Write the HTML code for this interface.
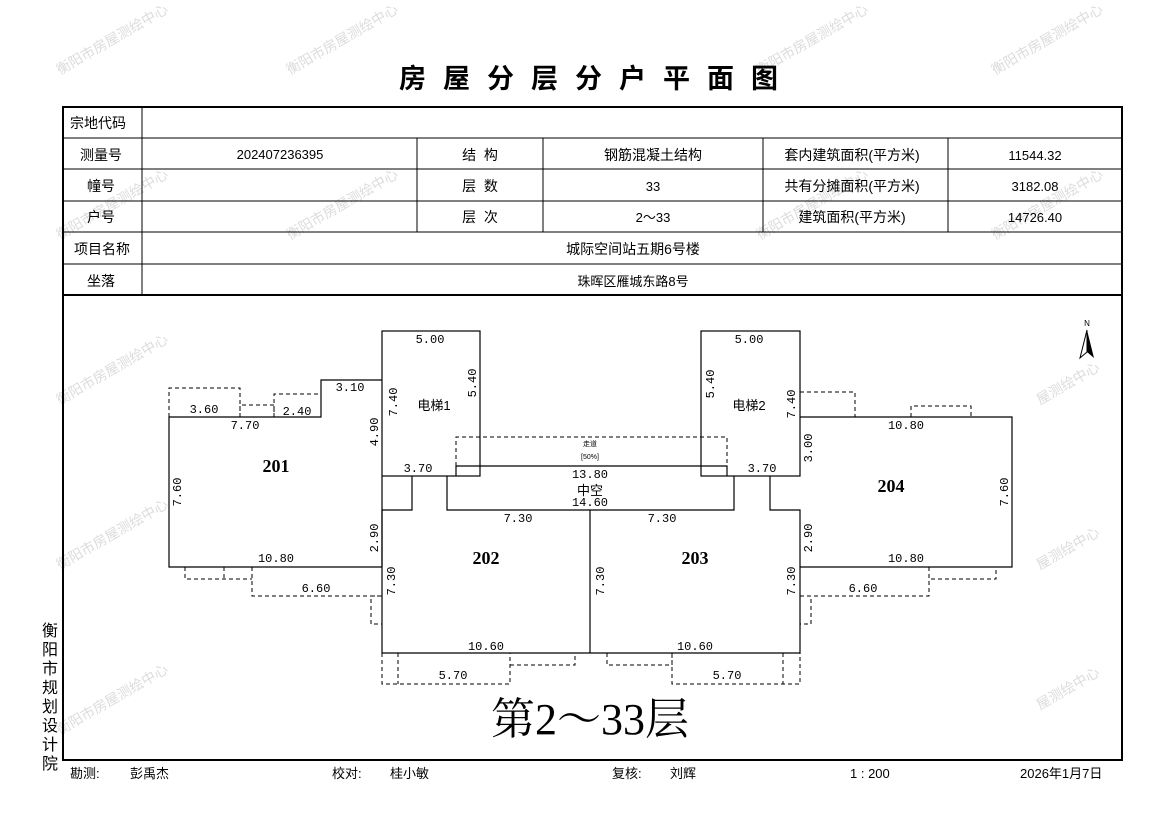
<!DOCTYPE html>
<html><head><meta charset="utf-8"><style>
html,body{margin:0;padding:0;background:#fff;}
svg{display:block;font-family:"Liberation Sans","Noto Sans CJK SC",sans-serif;}
</style></head><body>
<svg width="1169" height="827" viewBox="0 0 1169 827" xmlns="http://www.w3.org/2000/svg">
<g fill="#dcdcdc" font-size="14">
<text transform="translate(60,75) rotate(-30)">衡阳市房屋测绘中心</text>
<text transform="translate(290,75) rotate(-30)">衡阳市房屋测绘中心</text>
<text transform="translate(760,75) rotate(-30)">衡阳市房屋测绘中心</text>
<text transform="translate(995,75) rotate(-30)">衡阳市房屋测绘中心</text>
<text transform="translate(60,240) rotate(-30)">衡阳市房屋测绘中心</text>
<text transform="translate(290,240) rotate(-30)">衡阳市房屋测绘中心</text>
<text transform="translate(760,240) rotate(-30)">衡阳市房屋测绘中心</text>
<text transform="translate(995,240) rotate(-30)">衡阳市房屋测绘中心</text>
<text transform="translate(60,405) rotate(-30)">衡阳市房屋测绘中心</text>
<text transform="translate(1040,405) rotate(-30)">屋测绘中心</text>
<text transform="translate(60,570) rotate(-30)">衡阳市房屋测绘中心</text>
<text transform="translate(1040,570) rotate(-30)">屋测绘中心</text>
<text transform="translate(60,735) rotate(-30)">衡阳市房屋测绘中心</text>
<text transform="translate(1040,710) rotate(-30)">屋测绘中心</text>
</g>
<text x="597" y="88" font-size="27" font-weight="bold" text-anchor="middle" letter-spacing="17">房屋分层分户平面图</text>
<rect x="63" y="107" width="1059" height="653" fill="none" stroke="#000" stroke-width="2"/>
<g stroke="#000" stroke-width="1">
<line x1="63" y1="138" x2="1122" y2="138"/>
<line x1="63" y1="169" x2="1122" y2="169"/>
<line x1="63" y1="201" x2="1122" y2="201"/>
<line x1="63" y1="232" x2="1122" y2="232"/>
<line x1="63" y1="264" x2="1122" y2="264"/>
<line x1="63" y1="295" x2="1122" y2="295" stroke-width="2"/>
<line x1="142" y1="107" x2="142" y2="295"/>
<line x1="417" y1="138" x2="417" y2="232"/>
<line x1="543" y1="138" x2="543" y2="232"/>
<line x1="763" y1="138" x2="763" y2="232"/>
<line x1="948" y1="138" x2="948" y2="232"/>
</g>
<g font-size="14" text-anchor="middle">
<text x="98" y="128">宗地代码</text>
<text x="101" y="160">测量号</text>
<text x="101" y="191">幢号</text>
<text x="101" y="222">户号</text>
<text x="102" y="254">项目名称</text>
<text x="101" y="286">坐落</text>
<text x="280" y="159" font-size="13">202407236395</text>
<text x="480" y="160" xml:space="preserve">结  构</text>
<text x="480" y="191" xml:space="preserve">层  数</text>
<text x="480" y="222" xml:space="preserve">层  次</text>
<text x="653" y="160">钢筋混凝土结构</text>
<text x="653" y="191" font-size="13">33</text>
<text x="653" y="222" font-size="13">2～33</text>
<text x="852" y="160">套内建筑面积(平方米)</text>
<text x="852" y="191">共有分摊面积(平方米)</text>
<text x="852" y="222">建筑面积(平方米)</text>
<text x="1035" y="160" font-size="13">11544.32</text>
<text x="1035" y="191" font-size="13">3182.08</text>
<text x="1035" y="222" font-size="13">14726.40</text>
<text x="633" y="254">城际空间站五期6号楼</text>
<text x="633" y="286" font-size="13">珠晖区雁城东路8号</text>
</g>
<g font-size="16" text-anchor="middle">
<text x="50" y="636">衡</text><text x="50" y="655">阳</text><text x="50" y="674">市</text><text x="50" y="693">规</text><text x="50" y="712">划</text><text x="50" y="731">设</text><text x="50" y="750">计</text><text x="50" y="769">院</text>
</g>
<g font-size="13">
<text x="70" y="778">勘测:</text><text x="130" y="778">彭禹杰</text>
<text x="332" y="778">校对:</text><text x="390" y="778">桂小敏</text>
<text x="612" y="778">复核:</text><text x="670" y="778">刘辉</text>
<text x="850" y="778">1 : 200</text>
<text x="1020" y="778">2026年1月7日</text>
</g>
<g fill="none" stroke="#000" stroke-width="1.2">
<polyline points="382,380 321,380 321,417 169,417 169,567 382,567"/>
<rect x="382" y="331" width="98" height="145"/>
<rect x="701" y="331" width="99" height="145"/>
<polyline points="382,476 382,567"/>
<polyline points="412,476 412,510 382,510 382,653 800,653 800,510 770,510 770,476"/>
<line x1="590" y1="510" x2="590" y2="653"/>
<polyline points="447,476 447,510 734,510 734,476"/>
<polyline points="456,476 456,466 727,466 727,476"/>
<polyline points="800,417 1012,417 1012,567 800,567"/>
</g>
<g fill="none" stroke="#000" stroke-width="1" stroke-dasharray="4,3">
<polyline points="456,466 456,437 727,437 727,466"/>
<polyline points="169,417 169,388 240,388 240,417"/>
<polyline points="240,417 240,405 274,405 274,417"/>
<polyline points="274,417 274,394 321,394"/>
<polyline points="185,567 185,579 252,579"/>
<polyline points="224,567 224,579"/>
<polyline points="252,567 252,596 382,596"/>
<polyline points="382,596 371,596 371,624 382,624"/>
<polyline points="382,653 382,684 510,684 510,653"/>
<line x1="398" y1="653" x2="398" y2="684"/>
<polyline points="510,665 575,665 575,653"/>
<polyline points="607,653 607,665 672,665 672,653"/>
<polyline points="672,653 672,684 800,684 800,653"/>
<line x1="783" y1="653" x2="783" y2="684"/>
<polyline points="800,392 855,392 855,417"/>
<polyline points="911,417 911,406 971,406 971,417"/>
<polyline points="929,567 929,579 996,579 996,567"/>
<polyline points="929,567 929,596 800,596"/>
<polyline points="800,596 811,596 811,624 800,624"/>
</g>
<g font-family="Liberation Mono,monospace" font-size="12" text-anchor="middle">
<text x="430" y="343">5.00</text><text x="749" y="343">5.00</text>
<text x="204" y="413">3.60</text><text x="297" y="415">2.40</text>
<text x="350" y="391">3.10</text>
<text x="245" y="429">7.70</text>
<text x="276" y="562">10.80</text>
<text x="316" y="592">6.60</text>
<text x="418" y="472">3.70</text><text x="762" y="472">3.70</text>
<text x="590" y="478">13.80</text>
<text x="590" y="506">14.60</text>
<text x="518" y="522">7.30</text><text x="662" y="522">7.30</text>
<text x="486" y="650">10.60</text><text x="695" y="650">10.60</text>
<text x="453" y="679">5.70</text><text x="727" y="679">5.70</text>
<text x="906" y="429">10.80</text><text x="906" y="562">10.80</text>
<text x="863" y="592">6.60</text>
</g>
<g font-family="Liberation Mono,monospace" font-size="12" text-anchor="middle">
<text transform="translate(181,492) rotate(-90)">7.60</text>
<text transform="translate(397,402) rotate(-90)">7.40</text>
<text transform="translate(378,432) rotate(-90)">4.90</text>
<text transform="translate(476,383) rotate(-90)">5.40</text>
<text transform="translate(378,538) rotate(-90)">2.90</text>
<text transform="translate(395,581) rotate(-90)">7.30</text>
<text transform="translate(604,581) rotate(-90)">7.30</text>
<text transform="translate(795,581) rotate(-90)">7.30</text>
<text transform="translate(812,538) rotate(-90)">2.90</text>
<text transform="translate(812,448) rotate(-90)">3.00</text>
<text transform="translate(795,404) rotate(-90)">7.40</text>
<text transform="translate(714,384) rotate(-90)">5.40</text>
<text transform="translate(1008,492) rotate(-90)">7.60</text>
</g>
<g font-size="13" text-anchor="middle">
<text x="434" y="410">电梯1</text><text x="749" y="410">电梯2</text>
<text x="590" y="495">中空</text>
<text x="590" y="446" font-size="7">走道</text>
<text x="590" y="459" font-size="7">[50%]</text>
</g>
<g font-family="Liberation Serif,serif" font-size="18" font-weight="bold" text-anchor="middle">
<text x="276" y="472">201</text><text x="486" y="564">202</text>
<text x="695" y="564">203</text><text x="891" y="492">204</text>
</g>
<text x="590" y="734" font-family="Liberation Serif,'Noto Serif CJK SC',serif" font-size="44" text-anchor="middle">第2～33层</text>
<text x="1087" y="326" font-size="8" text-anchor="middle">N</text>
<polygon points="1087,330 1080,358 1087,352" fill="none" stroke="#000"/>
<polygon points="1087,330 1094,358 1087,352" fill="#000"/>
</svg>
</body></html>
